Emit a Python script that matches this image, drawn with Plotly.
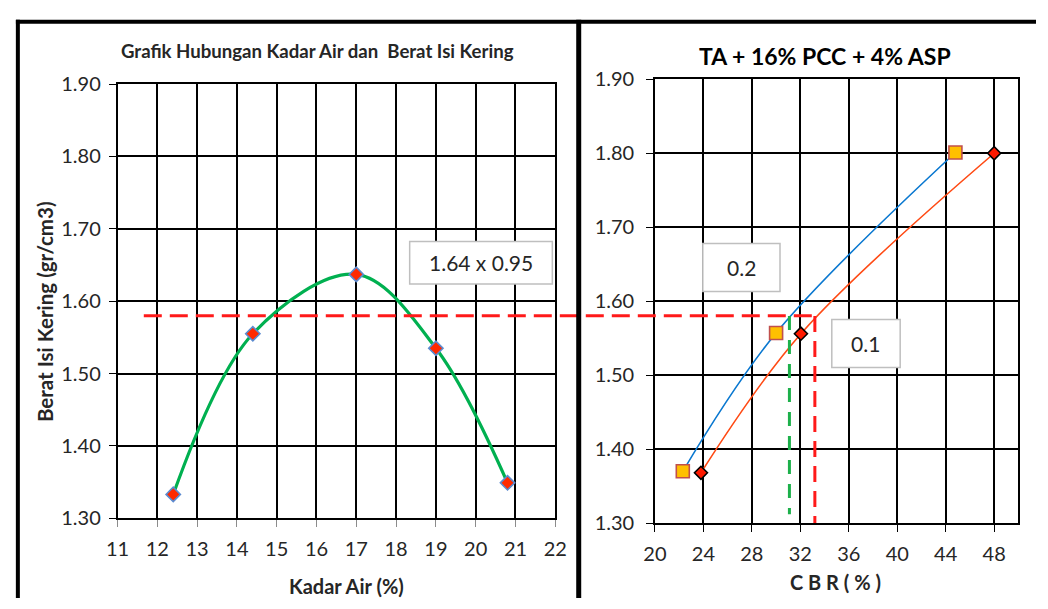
import plotly.graph_objects as go

# ---- data -------------------------------------------------------------
# Compaction: moisture content vs dry density
moisture = [12.4, 14.4, 17.0, 19.0, 20.8]
dry_density = [1.333, 1.555, 1.637, 1.535, 1.349]

# CBR vs dry density, two curves (0.2 and 0.1 penetration)
cbr_02 = [22.3, 30.0, 44.8]
dens_02 = [1.370, 1.557, 1.801]
cbr_01 = [23.8, 32.05, 48.0]
dens_01 = [1.368, 1.556, 1.800]

# design density and the CBR values
design_density = 1.58
guide_start_moisture = 11.66
cbr_at_design_02 = 31.1
cbr_at_design_01 = 33.2
guide_floor_02 = 1.312
guide_floor_01 = 1.298

left_title = "Grafik Hubungan Kadar Air dan\u00a0 Berat Isi Kering"
right_title = "TA + 16% PCC + 4% ASP"
box_labels = ["1.64 x 0.95", "0.2", "0.1"]

# ---- page geometry (pixels) -------------------------------------------
W, H = 1048, 609
FONT = "Lato"
TXT = "#262626"


def px(x):
    return x / W


def py(y):
    return (H - y) / H


L_X0, L_X1, L_Y0, L_Y1 = 108, 556, 526, 74
R_X0, R_X1, R_Y0, R_Y1 = 658, 1030, 531, 69
L_RANGE = [11, 22]
R_RANGE = [20, 50]


def left_x_to_paper(v):
    return px(L_X0 + (v - L_RANGE[0]) / (L_RANGE[1] - L_RANGE[0]) * (L_X1 - L_X0))


def right_x_to_paper(v):
    return px(R_X0 + (v - R_RANGE[0]) / (R_RANGE[1] - R_RANGE[0]) * (R_X1 - R_X0))


fig = go.Figure()

# left: smooth compaction curve and points
fig.add_trace(go.Scatter(
    x=moisture, y=dry_density, mode="lines",
    line=dict(color="#00B050", width=3.2, shape="spline", smoothing=1.0),
    xaxis="x", yaxis="y", hoverinfo="skip", showlegend=False))
fig.add_trace(go.Scatter(
    x=moisture, y=dry_density, mode="markers",
    marker=dict(symbol="diamond", size=11, color="#FF2A00",
                line=dict(color="#5B8BD0", width=1.6)),
    xaxis="x", yaxis="y", showlegend=False))

# right: CBR curves
fig.add_trace(go.Scatter(
    x=cbr_02, y=dens_02, mode="lines",
    line=dict(color="#0A78D0", width=1.6, shape="spline", smoothing=1.0),
    xaxis="x2", yaxis="y2", hoverinfo="skip", showlegend=False))
fig.add_trace(go.Scatter(
    x=cbr_01, y=dens_01, mode="lines",
    line=dict(color="#FF4A14", width=1.6, shape="spline", smoothing=1.0),
    xaxis="x2", yaxis="y2", hoverinfo="skip", showlegend=False))
fig.add_trace(go.Scatter(
    x=cbr_02, y=dens_02, mode="markers",
    marker=dict(symbol="square", size=13, color="#FFC000",
                line=dict(color="#C0504D", width=1.6)),
    xaxis="x2", yaxis="y2", showlegend=False))
fig.add_trace(go.Scatter(
    x=cbr_01, y=dens_01, mode="markers",
    marker=dict(symbol="diamond", size=10, color="#FF1A00",
                line=dict(color="#000000", width=1.6)),
    xaxis="x2", yaxis="y2", showlegend=False))

axis_common = dict(
    showgrid=True, gridcolor="#000000", gridwidth=1.5,
    showline=True, linecolor="#000000", linewidth=1.5, mirror=True,
    zeroline=False, ticks="outside", ticklen=7, tickwidth=1.3,
    tickcolor="#000000", tickfont=dict(family=FONT, size=20, color=TXT),
)

fig.update_layout(
    width=W, height=H,
    margin=dict(l=0, r=0, t=0, b=0),
    paper_bgcolor="white", plot_bgcolor="white",
    font=dict(family=FONT, color=TXT),
    xaxis=dict(axis_common, domain=[px(L_X0), px(L_X1)], range=L_RANGE,
               tick0=11, dtick=1, anchor="y", tickcolor="#8C8C8C",
               ticklabelstandoff=5),
    yaxis=dict(axis_common, domain=[py(L_Y0), py(L_Y1)], range=[1.3, 1.9],
               tick0=1.3, dtick=0.1, tickformat=".2f", anchor="x",
               ticklabelstandoff=4),
    xaxis2=dict(axis_common, domain=[px(R_X0), px(R_X1)], range=R_RANGE,
                tick0=20, dtick=4, anchor="y2", ticklabelstandoff=5),
    yaxis2=dict(axis_common, domain=[py(R_Y0), py(R_Y1)], range=[1.3, 1.9],
                tick0=1.3, dtick=0.1, tickformat=".2f", anchor="x2",
                ticklabelstandoff=8),
)

shapes = []
# design-density guide lines
shapes.append(dict(type="line", xref="paper", yref="y",
                   x0=left_x_to_paper(guide_start_moisture),
                   x1=right_x_to_paper(cbr_at_design_01),
                   y0=design_density, y1=design_density,
                   line=dict(color="#FF1A1A", width=3, dash="18px,8px")))
shapes.append(dict(type="line", xref="x2", yref="y2",
                   x0=cbr_at_design_01, x1=cbr_at_design_01,
                   y0=design_density, y1=guide_floor_01,
                   line=dict(color="#FF1A1A", width=3, dash="16px,9px")))
shapes.append(dict(type="line", xref="x2", yref="y2",
                   x0=cbr_at_design_02, x1=cbr_at_design_02,
                   y0=design_density, y1=guide_floor_02,
                   line=dict(color="#1DB04B", width=3, dash="14px,10px")))

# label boxes
boxes = [(407, 238, 553, 282), (707, 240, 786, 290), (839, 319, 909, 369)]
annotations = []
for (x0, y0, x1, y1), label in zip(boxes, box_labels):
    shapes.append(dict(type="rect", xref="paper", yref="paper",
                       x0=px(x0), x1=px(x1), y0=py(y1), y1=py(y0),
                       fillcolor="white", line=dict(color="#BFBFBF", width=1.5)))
    annotations.append(dict(text=label, xref="paper", yref="paper",
                            x=px((x0 + x1) / 2), y=py((y0 + y1) / 2),
                            xanchor="center", yanchor="middle", showarrow=False,
                            font=dict(family=FONT, size=21, color=TXT)))

# outer frame and panel divider
shapes.append(dict(type="line", xref="paper", yref="paper",
                   x0=px(4), x1=px(W), y0=py(9), y1=py(9),
                   line=dict(color="#000000", width=4)))
shapes.append(dict(type="line", xref="paper", yref="paper",
                   x0=px(6), x1=px(6), y0=py(7), y1=py(H),
                   line=dict(color="#000000", width=4)))
shapes.append(dict(type="line", xref="paper", yref="paper",
                   x0=px(580), x1=px(580), y0=py(7), y1=py(H),
                   line=dict(color="#000000", width=5)))

# titles
annotations += [
    dict(text="<b>" + left_title + "</b>", xref="paper", yref="paper",
         x=px(313), y=py(40), xanchor="center", yanchor="middle", showarrow=False,
         font=dict(family=FONT, size=18.6, color=TXT)),
    dict(text="<b>" + right_title + "</b>", xref="paper", yref="paper",
         x=px(832), y=py(45), xanchor="center", yanchor="middle", showarrow=False,
         font=dict(family=FONT, size=23, color="#000000")),
    dict(text="<b>Kadar Air (%)</b>", xref="paper", yref="paper",
         x=px(342), y=py(597), xanchor="center", yanchor="middle", showarrow=False,
         font=dict(family=FONT, size=20, color=TXT)),
    dict(text="<b>C B R ( % )</b>", xref="paper", yref="paper",
         x=px(843), y=py(592), xanchor="center", yanchor="middle", showarrow=False,
         font=dict(family=FONT, size=20, color=TXT)),
    dict(text="<b>Berat Isi Kering (gr/cm3)</b>", xref="paper", yref="paper",
         x=px(33), y=py(311), xanchor="center", yanchor="middle", showarrow=False,
         textangle=-90, font=dict(family=FONT, size=20.5, color=TXT)),
]

fig.update_layout(shapes=shapes, annotations=annotations)

# place the figure flush with the page edges
page_css = ("document.body.style.margin='0';"
            "document.body.style.padding='0';"
            "document.body.style.overflow='hidden';")
fig.write_html("out.html", post_script=page_css)
